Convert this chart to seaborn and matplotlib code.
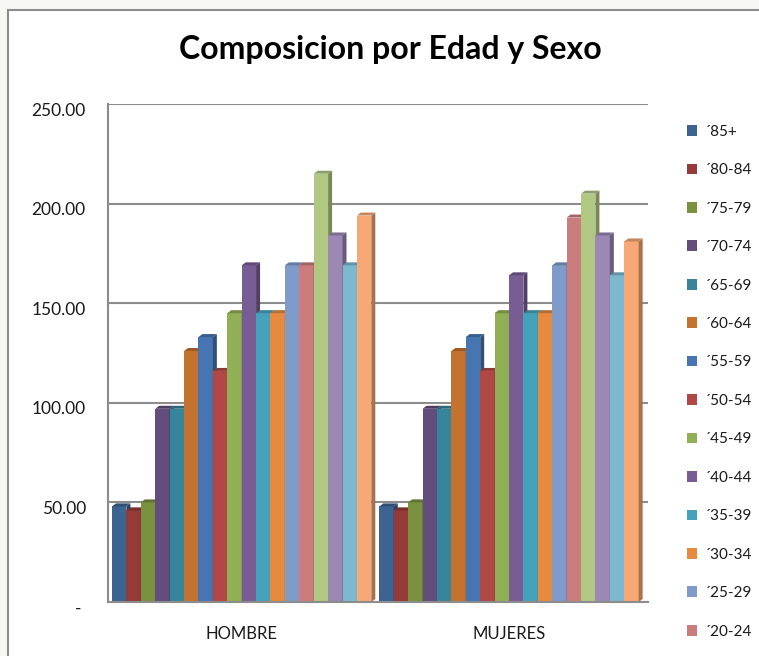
import numpy as np
import pandas as pd
import matplotlib
matplotlib.use("Agg")
import matplotlib.pyplot as plt
from matplotlib.patches import Patch, Polygon, Rectangle
from matplotlib.ticker import FuncFormatter
from matplotlib.transforms import ScaledTranslation
import matplotlib.colors as mcolors
import seaborn as sns

# Data
sexos = ["HOMBRE", "MUJERES"]
grupos = ["´85+", "´80-84", "´75-79", "´70-74", "´65-69", "´60-64", "´55-59",
          "´50-54", "´45-49", "´40-44", "´35-39", "´30-34", "´25-29", "´20-24",
          "´15-19", "´10-14", "´05-09", "´00-04"]
hombre = [48, 46, 50, 97, 97, 126, 133, 116, 145, 169, 145, 145, 169, 169, 215, 184, 169, 194]
mujeres = [48, 46, 50, 97, 97, 126, 133, 116, 145, 164, 145, 145, 169, 193, 205, 184, 164, 181]
colores = ["#3D6391", "#943B3A", "#7A9140", "#624D7D", "#37859A", "#C3722F",
           "#4675B1", "#B24845", "#91AF54", "#785D94", "#46A2BA", "#E58A3F",
           "#7F9BC9", "#CB7D7D", "#B1C883", "#9B88B4", "#7CB9D0", "#F7A874"]
yticks = [0, 50, 100, 150, 200, 250]
n_legend = 14  # legend in the reference is cut after ´20-24

df = pd.DataFrame({
    "sexo": np.repeat(sexos, len(grupos)),
    "grupo": grupos * 2,
    "valor": hombre + mujeres,
})

sns.set_style("white")
plt.rcParams["font.family"] = ["Lato", "DejaVu Sans"]

W, H = 759, 656
fig = plt.figure(figsize=(W / 100, H / 100), dpi=100)
fig.patch.set_facecolor("#F7F7F5")
# chart frame
fig.patches.append(Rectangle((8 / W, -0.01), 1.0, 1 - 10 / H + 0.01, transform=fig.transFigure,
                             facecolor="white", edgecolor="#8C8C8C", linewidth=1.5, zorder=-10))

ax = fig.add_axes([108 / W, 54 / H, 540 / W, 498 / H])
ax.set_facecolor("none")
ax.set_zorder(1)

sns.barplot(data=df, x="sexo", y="valor", hue="grupo", hue_order=grupos,
            palette=colores, saturation=1, width=0.97, gap=0, legend=False,
            edgecolor="none", linewidth=0, ax=ax)

ax.set_xlim(-0.5, 1.52)
ax.set_ylim(0, 250)
ax.set_yticks(yticks)
ax.yaxis.set_major_formatter(FuncFormatter(lambda v, p: "- " if v == 0 else f"{v:.2f}"))
ax.yaxis.grid(True, color="#8C8C8C", linewidth=1.5)
ax.set_axisbelow(True)
ax.tick_params(axis="y", length=0, pad=16, labelsize=12.5, labelcolor="#1a1a1a")
ax.tick_params(axis="x", length=0, pad=17, labelsize=12, labelcolor="#1a1a1a")
ax.set_xlabel("")
ax.set_ylabel("")
for s in ["top", "right"]:
    ax.spines[s].set_visible(False)
for s in ["left", "bottom"]:
    ax.spines[s].set_color("#8C8C8C")
    ax.spines[s].set_linewidth(1.5)

# y labels sit a little lower in the reference (front edge of the 3D wall)
for lab in ax.get_yticklabels():
    lab.set_transform(lab.get_transform() + ScaledTranslation(0, -0.05, fig.dpi_scale_trans))

# fake 3D: side and cap on each bar, derived from the bar geometry
x0, x1 = ax.get_xlim()
dx = 4 / 540 * (x1 - x0)
dy = 3 / 498 * 250
bars = sorted(ax.patches, key=lambda p: p.get_x())
for k, b in enumerate(bars):
    z = 2 + k * 0.01
    b.set_zorder(z)
    bx, bw, bh = b.get_x(), b.get_width(), b.get_height()
    rgb = np.array(mcolors.to_rgb(b.get_facecolor()))
    side = Polygon([(bx + bw, 0), (bx + bw + dx, dy), (bx + bw + dx, bh + dy), (bx + bw, bh)],
                   closed=True, facecolor=rgb * 0.68, edgecolor="none", zorder=z)
    cap = Polygon([(bx, bh), (bx + dx, bh + dy), (bx + bw + dx, bh + dy), (bx + bw, bh)],
                  closed=True, facecolor=rgb * 0.8, edgecolor="none", zorder=z)
    ax.add_patch(side)
    ax.add_patch(cap)

fig.text(390 / W, 1 - 50 / H, "Composicion por Edad y Sexo", ha="center", va="center",
         fontsize=23, fontweight="bold", color="black")

handles = [Patch(facecolor=c, edgecolor="none") for c in colores[:n_legend]]
fig.legend(handles, grupos[:n_legend], loc="upper left", bbox_to_anchor=(673 / W, 1 - 111 / H),
           frameon=False, fontsize=11, handlelength=0.7, handleheight=0.7,
           labelspacing=1.6, handletextpad=0.5, labelcolor="#1a1a1a")

fig.savefig("out.png", dpi=100, facecolor=fig.get_facecolor())
